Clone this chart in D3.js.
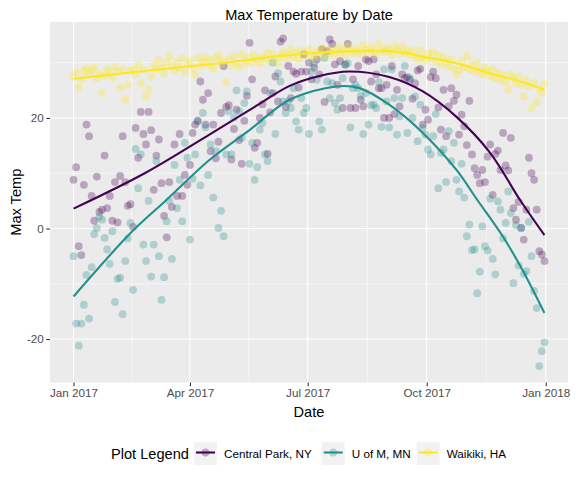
<!DOCTYPE html>
<html><head><meta charset="utf-8">
<script src="https://cdn.jsdelivr.net/npm/d3@7"></script>
<style>
body{margin:0;background:#fff}
svg{display:block;font-family:"Liberation Sans",Arial,Helvetica,sans-serif}
</style>
</head><body>
<svg id="chart" width="576" height="480"></svg>
<script>
// ---------------- data ----------------
const seriesNames  = ["Central Park, NY", "U of M, MN", "Waikiki, HA"];
const seriesColors = ["#440154", "#21908C", "#FDE725"];
const obsStartDate = "2017-01-01";   // first observation
const obsStepDays  = 2;              // one observation every 2 days
const obsEndDate   = "2017-12-31";

const centralPark = [
 8.8, 11.1, -3.2, -4.8, 7.9, 18.8, 16.7, 5.9, 1.4, 9.4,
 3.0, 3.4, 13.2, 3.7, 5.9, 1.4, 8.4, 1.1, 9.5, 16.7,
 8.4, 4.1, 4.4, 0.3, 18.2, 12.8, 21.1, 17.1, 15.2, 21.1,
 17.8, 7.0, 13.2, 16.1, 8.2, 2.3, -1.6, 8.4, 3.9, 15.2,
 5.9, 17.1, 5.9, 9.7, 7.9, 11.5, 17.3, 18.8, 19.5, 26.6,
 23.3, 18.8, 24.5, 14.0, 18.8, 12.7, 15.7, 20.9, 29.4, 22.0,
 22.3, 12.5, 18.0, 21.5, 16.0, 11.7, 19.5, 24.0, 33.6, 27.0,
 14.6, 15.5, 20.0, 22.5, 25.0, 13.5, 21.0, 24.5, 27.5, 23.0,
 33.8, 34.4, 22.0, 29.4, 23.6, 28.4, 28.0, 25.5, 28.4, 31.5,
 28.4, 30.0, 27.0, 29.1, 30.6, 27.9, 32.4, 22.9, 32.1, 34.2,
 33.4, 29.7, 26.0, 30.3, 21.8, 29.7, 33.4, 21.8, 27.0, 21.8,
 29.4, 23.3, 22.1, 30.6, 30.3, 26.6, 30.6, 27.9, 25.4, 25.4,
 20.0, 26.0, 20.0, 29.4, 20.7, 25.1, 22.1, 27.9, 27.2, 27.4,
 26.9, 23.5, 26.3, 28.6, 28.9, 18.8, 21.5, 19.7, 27.4, 28.4,
 27.2, 21.9, 17.9, 25.1, 16.7, 22.1, 25.4, 23.1, 24.2, 17.0,
 20.6, 18.5, 15.1, 23.1, 13.4, 10.9, 9.7, 8.2, 10.6, 8.4,
 13.0, 15.2, 6.1, 13.5, 14.1, 10.6, 17.3, 11.4, 10.5, 16.4,
 3.7, 1.6, 4.8, 0.1, -2.0, 3.4, 12.8, 10.0, 8.8, 3.4,
 -4.1, -4.7, -5.9];

const uOfM = [
 -5.0, -17.2, -21.2, -17.2, -13.8, -8.4, -16.3, -7.0, -1.0, 0.1,
 2.1, 1.6, -1.7, -3.8, -6.4, -0.5, -13.3, -9.1, -8.9, -15.5,
 -5.9, -1.8, 1.0, -11.1, 14.4, 7.3, 13.4, -2.9, -5.9, 5.0,
 -8.7, -2.9, 12.2, -5.0, -12.9, -8.8, 1.3, 5.0, -5.5, 11.5,
 3.7, 8.8, 1.3, 15.5, 12.8, -2.0, 9.0, 13.4, 19.4, 7.8,
 20.9, 18.3, 9.7, 15.2, 5.6, 14.0, 0.1, 3.2, -1.4, 13.4,
 21.2, 13.4, 20.1, 25.0, 21.2, 16.4, 22.7, 24.8, 11.7, 15.5,
 8.8, 11.1, 17.9, 19.1, 13.4, 12.2, 24.5, 30.0, 17.1, 28.1,
 26.6, 23.0, 20.9, 23.0, 21.8, 25.4, 19.4, 17.9, 23.6, 20.9,
 21.8, 17.1, 28.4, 29.9, 26.9, 19.4, 17.9, 30.9, 26.6, 23.6,
 26.3, 22.7, 21.5, 23.6, 27.2, 29.6, 29.9, 18.3, 25.4, 26.0,
 25.4, 24.0, 17.1, 24.5, 18.8, 22.3, 22.4, 21.8, 26.5, 18.4,
 28.8, 23.0, 18.3, 28.8, 23.6, 17.0, 20.3, 23.6, 29.4, 17.3,
 27.2, 20.0, 23.9, 15.8, 22.4, 18.2, 17.0, 14.3, 13.4, 16.7,
 20.7, 7.3, 13.7, 14.3, 8.4, 17.6, 12.2, 15.5, 8.8, 6.7,
 11.7, 5.6, -1.4, 0.7, -3.9, -3.8, -11.7, -7.8, 0.4, -3.2,
 -4.0, 5.4, -5.5, -8.3, 4.9, 3.4, -1.8, 1.0, 6.7, 2.8,
 -9.9, 0.6, -6.7, 0.1, -8.2, -7.7, 1.2, -5.0, -11.3, -14.4,
 -24.9, -22.2, -20.6];

const waikiki = [
 27.5, 28.3, 25.5, 27.0, 28.5, 29.0, 27.8, 28.6, 29.1, 27.2,
 28.0, 24.5, 27.6, 28.9, 28.2, 27.3, 29.3, 28.4, 25.5, 28.8,
 23.3, 26.0, 28.5, 28.8, 27.9, 29.6, 26.3, 28.7, 23.9, 25.1,
 27.5, 29.5, 28.8, 30.5, 29.2, 28.0, 30.0, 31.2, 29.4, 28.6,
 30.1, 29.0, 30.8, 28.3, 29.7, 30.4, 29.1, 27.8, 30.9, 29.5,
 30.2, 31.0, 29.6, 30.5, 28.9, 30.8, 31.3, 29.8, 30.3, 26.5,
 30.6, 29.4, 31.2, 30.0, 29.2, 31.5, 30.4, 29.9, 31.0, 30.2,
 31.4, 30.6, 29.8, 31.1, 30.7, 31.8, 30.3, 31.6, 30.9, 29.9,
 31.3, 32.0, 30.8, 31.5, 32.4, 31.0, 31.9, 30.6, 32.2, 31.4,
 31.8, 32.5, 31.2, 30.8, 32.0, 31.6, 32.7, 31.1, 32.3, 31.7,
 32.1, 31.4, 32.8, 31.9, 32.5, 31.3, 33.0, 32.2, 31.7, 32.6,
 32.0, 31.5, 33.2, 32.4, 31.8, 32.9, 32.1, 31.6, 33.4, 32.3,
 31.9, 32.7, 32.2, 31.4, 33.1, 32.5, 31.8, 32.9, 31.6, 32.3,
 31.5, 32.1, 31.2, 30.6, 32.3, 31.0, 30.4, 31.7, 30.8, 31.9,
 30.2, 31.4, 29.6, 30.9, 30.1, 29.4, 30.7, 28.9, 27.8, 28.7,
 30.4, 29.2, 31.2, 28.8, 29.7, 28.3, 29.9, 28.6, 27.9, 29.1,
 28.4, 27.6, 28.9, 27.2, 28.1, 26.8, 27.7, 26.5, 25.1, 27.9,
 27.3, 26.2, 27.5, 26.0, 23.9, 26.9, 25.7, 21.8, 26.4, 22.9,
 25.3, 24.5, 26.1];

// smoothed trend (loess): day-of-year and value
const cpSmoothDays = [0, 55, 105, 140, 167, 190, 213, 244, 270, 296, 322, 345, 364];
const cpSmooth     = [3.6, 10.0, 17.0, 22.0, 25.8, 27.6, 28.4, 27.4, 24.8, 20.2, 13.7, 5.2, -1.2];
const umSmoothDays = [0, 45, 72, 105, 136, 167, 203, 221, 244, 270, 296, 312, 332, 347, 364];
const umSmooth     = [-12.3, -0.6, 5.2, 12.4, 17.8, 23.3, 25.7, 25.4, 22.4, 17.3, 10.6, 5.2, -1.5, -7.5, -15.3];
const wkSmoothDays = [0, 51, 113, 182, 244, 270, 296, 322, 347, 364];
const wkSmooth     = [27.1, 28.4, 29.9, 31.7, 32.1, 31.1, 29.9, 28.1, 26.5, 25.1];

const xTickDates = ["2017-01-01", "2017-04-01", "2017-07-01", "2017-10-01", "2018-01-01"];
const yTicks = [-20, 0, 20];

// ---------------- build ----------------
const DAY = 86400000;
const start = new Date(obsStartDate + "T00:00:00Z");
const end = new Date(obsEndDate + "T00:00:00Z");
const dayToDate = d => new Date(start.getTime() + d * DAY);

const seriesVals = [centralPark, uOfM, waikiki];
const smoothDays = [cpSmoothDays, umSmoothDays, wkSmoothDays];
const smoothVals = [cpSmooth, umSmooth, wkSmooth];

const points = [];
seriesVals.forEach((arr, s) => arr.forEach((v, i) => points.push({s, date: dayToDate(i * obsStepDays), v})));

const panel = {l: 50, r: 568, t: 22, b: 382.5};
const svg = d3.select("#chart");

const tSpan = end - start;
const x = d3.scaleUtc()
  .domain([new Date(start.getTime() - 0.05 * tSpan), new Date(end.getTime() + 0.05 * tSpan)])
  .range([panel.l, panel.r]);

const allV = points.map(p => p.v).concat(...smoothVals);
const vmin = d3.min(allV), vmax = d3.max(allV), vs = vmax - vmin;
const y = d3.scaleLinear().domain([vmin - 0.05 * vs, vmax + 0.05 * vs]).range([panel.b, panel.t]);

// panel background
svg.append("rect").attr("x", panel.l).attr("y", panel.t)
  .attr("width", panel.r - panel.l).attr("height", panel.b - panel.t).attr("fill", "#EBEBEB");

const grid = svg.append("g");
const xt = xTickDates.map(s => new Date(s + "T00:00:00Z"));
const xMinor = [];
for (let i = 0; i < xt.length - 1; i++) xMinor.push(new Date((xt[i].getTime() + xt[i + 1].getTime()) / 2));
const step = yTicks[1] - yTicks[0];
const yMinor = [yTicks[0] - step / 2];
yTicks.forEach(v => yMinor.push(v + step / 2));

const [ylo, yhi] = y.domain();
yMinor.filter(v => v >= ylo && v <= yhi).forEach(v => {
  grid.append("line").attr("x1", panel.l).attr("x2", panel.r).attr("y1", y(v)).attr("y2", y(v))
    .attr("stroke", "#fff").attr("stroke-width", 0.55);
});
xMinor.forEach(d => {
  grid.append("line").attr("y1", panel.t).attr("y2", panel.b).attr("x1", x(d)).attr("x2", x(d))
    .attr("stroke", "#fff").attr("stroke-width", 0.55);
});
yTicks.forEach(v => {
  grid.append("line").attr("x1", panel.l).attr("x2", panel.r).attr("y1", y(v)).attr("y2", y(v))
    .attr("stroke", "#fff").attr("stroke-width", 1.1);
});
xt.forEach(d => {
  grid.append("line").attr("y1", panel.t).attr("y2", panel.b).attr("x1", x(d)).attr("x2", x(d))
    .attr("stroke", "#fff").attr("stroke-width", 1.1);
});

// points
svg.append("g").selectAll("circle").data(points).join("circle")
  .attr("cx", d => x(d.date)).attr("cy", d => y(d.v)).attr("r", 3.9)
  .attr("fill", d => seriesColors[d.s]).attr("fill-opacity", 0.3);

// smooth lines
const line = d3.line().x(d => x(d[0])).y(d => y(d[1])).curve(d3.curveCatmullRom.alpha(0.5));
smoothDays.forEach((days, s) => {
  const pts = days.map((dd, i) => [dayToDate(dd), smoothVals[s][i]]);
  svg.append("path").attr("d", line(pts)).attr("fill", "none")
    .attr("stroke", seriesColors[s]).attr("stroke-width", 2.1);
});

// axes
const xAxis = d3.axisBottom(x).tickValues(xt).tickFormat(d3.utcFormat("%b %Y")).tickSize(3.7).tickPadding(2.5);
const gx = svg.append("g").attr("transform", `translate(0,${panel.b})`).call(xAxis);
gx.select(".domain").remove();
gx.selectAll("line").attr("stroke", "#333").attr("stroke-width", 1.07);
gx.selectAll("text").attr("fill", "#4D4D4D").style("font-size", "11.7px").attr("dy", "0.71em");

const yAxis = d3.axisLeft(y).tickValues(yTicks).tickFormat(d => String(d)).tickSize(3.7).tickPadding(2.5);
const gy = svg.append("g").attr("transform", `translate(${panel.l},0)`).call(yAxis);
gy.select(".domain").remove();
gy.selectAll("line").attr("stroke", "#333").attr("stroke-width", 1.07);
gy.selectAll("text").attr("fill", "#4D4D4D").style("font-size", "11.7px");

// titles
svg.append("text").attr("x", (panel.l + panel.r) / 2).attr("y", 20).attr("text-anchor", "middle")
  .style("font-size", "14.6px").attr("fill", "#000").text("Max Temperature by Date");
svg.append("text").attr("x", (panel.l + panel.r) / 2).attr("y", 417).attr("text-anchor", "middle")
  .style("font-size", "14.6px").attr("fill", "#000").text("Date");
svg.append("text").attr("transform", `translate(21,${(panel.t + panel.b) / 2}) rotate(-90)`)
  .attr("text-anchor", "middle").style("font-size", "14.6px").attr("fill", "#000").text("Max Temp");

// legend
const lg = svg.append("g");
lg.append("text").attr("x", 111).attr("y", 458.5).style("font-size", "14.6px").attr("fill", "#000").text("Plot Legend");
const keyX = [194, 321.7, 416.7];
seriesNames.forEach((name, s) => {
  const kx = keyX[s], ky = 442;
  lg.append("rect").attr("x", kx).attr("y", ky).attr("width", 23).attr("height", 23).attr("fill", "#F2F2F2");
  lg.append("circle").attr("cx", kx + 11.5).attr("cy", ky + 10.5).attr("r", 3.9)
    .attr("fill", seriesColors[s]).attr("fill-opacity", 0.3);
  lg.append("line").attr("x1", kx + 2).attr("x2", kx + 21).attr("y1", ky + 10.5).attr("y2", ky + 10.5)
    .attr("stroke", seriesColors[s]).attr("stroke-width", 2.1);
  lg.append("text").attr("x", kx + 30).attr("y", 457.5).style("font-size", "11.7px").attr("fill", "#000").text(name);
});
</script>
</body></html>
